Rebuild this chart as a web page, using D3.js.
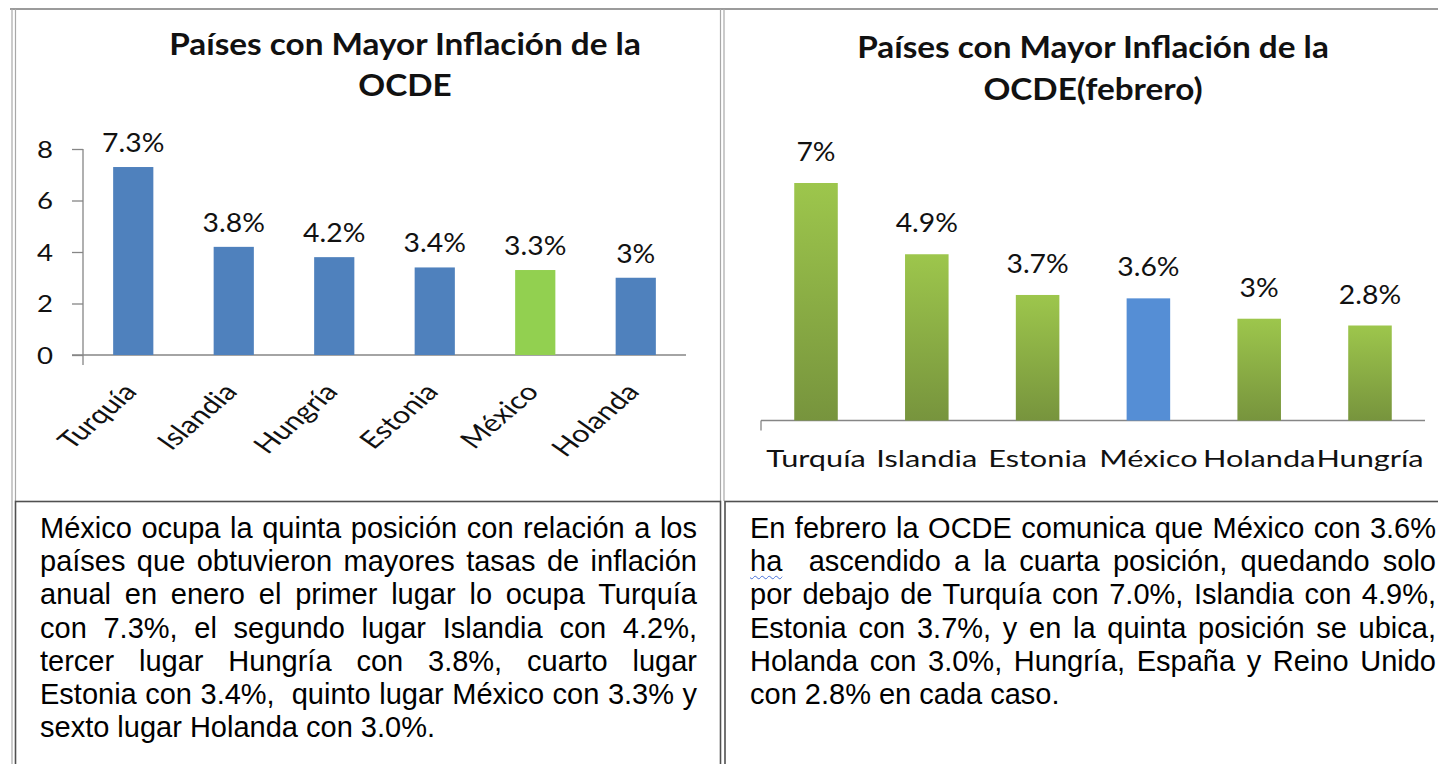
<!DOCTYPE html>
<html>
<head>
<meta charset="utf-8">
<script src="https://cdn.jsdelivr.net/npm/d3@7"></script>
<style>
    body { margin: 0; background: #fff; }
    #wrap { position: relative; width: 1438px; height: 764px; overflow: hidden; }
    #wrap svg { position: absolute; left: 0; top: 0; }
    .para { position: absolute; font-family: "Liberation Sans", Arial, sans-serif; font-size: 29px; line-height: 33.2px; color: #000; }
    .para div { text-align: justify; text-align-last: justify; white-space: pre-wrap; }
    .para div.last { text-align-last: left; }
    .spell { text-decoration: underline wavy #4a72d8; text-decoration-thickness: 1px; text-underline-offset: 4px; }
</style>
</head>
<body>
<div id="wrap"></div>
<script>
// enero
const paisesEnero = ["Turquía", "Islandia", "Hungría", "Estonia", "México", "Holanda"];
const valoresEnero = [7.3, 4.2, 3.8, 3.4, 3.3, 3.0];
const etiquetasEnero = ["7.3%", "3.8%", "4.2%", "3.4%", "3.3%", "3%"];
const ticksEnero = [0, 2, 4, 6, 8];
const tituloEnero = ["Países con Mayor Inflación de la", "OCDE"];

// febrero
const paisesFebrero = ["Turquía", "Islandia", "Estonia", "México", "Holanda", "Hungría"];
const valoresFebrero = [7.0, 4.9, 3.7, 3.6, 3.0, 2.8];
const etiquetasFebrero = ["7%", "4.9%", "3.7%", "3.6%", "3%", "2.8%"];
const tituloFebrero = ["Países con Mayor Inflación de la", "OCDE(febrero)"];

const destacado = "México";

const textoEnero = [
    "México ocupa la quinta posición con relación a los",
    "países que obtuvieron mayores tasas de inflación",
    "anual en enero el primer lugar lo ocupa Turquía",
    "con 7.3%, el segundo lugar Islandia con 4.2%,",
    "tercer lugar Hungría con 3.8%, cuarto lugar",
    "Estonia con 3.4%,  quinto lugar México con 3.3% y",
    "sexto lugar Holanda con 3.0%."
];
const textoFebrero = [
    "En febrero la OCDE comunica que México con 3.6%",
    "ha  ascendido a la cuarta posición, quedando solo",
    "por debajo de Turquía con 7.0%, Islandia con 4.9%,",
    "Estonia con 3.7%, y en la quinta posición se ubica,",
    "Holanda con 3.0%, Hungría, España y Reino Unido",
    "con 2.8% en cada caso."
];

const W = 1438, H = 764;
const axisGray = "#868686";
const font = "Lato, 'Open Sans', sans-serif";

let svg = d3.select("#wrap").append("svg")
    .attr("width", W)
    .attr("height", H)
    .attr("viewBox", [0, 0, W, H].join(" "));

let defs = svg.append("defs");
let grad = defs.append("linearGradient")
    .attr("id", "verde")
    .attr("x1", 0).attr("y1", 0).attr("x2", 0).attr("y2", 1);
grad.append("stop").attr("offset", "0%").attr("stop-color", "#9dc64c");
grad.append("stop").attr("offset", "100%").attr("stop-color", "#77943d");

// the charts in the picture are pasted images stretched sideways, so text gets a scaleX
function label(g, x, y, txt, size, sx, anchor, weight, extra) {
    return g.append("text")
        .attr("transform", `translate(${x},${y}) scale(${sx},1)` + (extra || ""))
        .attr("text-anchor", anchor || "middle")
        .attr("font-family", font)
        .attr("font-size", size)
        .attr("font-weight", weight || 400)
        .attr("fill", "#111")
        .text(txt);
}

// ---- borders
const light = "#a8a8a8";
svg.append("line").attr("x1", 10).attr("y1", 9).attr("x2", W).attr("y2", 9)
    .attr("stroke", "#7a7a7a").attr("stroke-width", 1.5);
[12, 15.5, 720.5, 724].forEach(x => {
    svg.append("line")
        .attr("x1", x).attr("y1", 9)
        .attr("x2", x).attr("y2", x === 12 ? H : 501)
        .attr("stroke", light).attr("stroke-width", 1.2);
});
svg.append("rect").attr("x", 15.5).attr("y", 501.5).attr("width", 705).attr("height", 300)
    .attr("fill", "none").attr("stroke", "#505050").attr("stroke-width", 1.6);
svg.append("rect").attr("x", 725).attr("y", 501.5).attr("width", 760).attr("height", 300)
    .attr("fill", "none").attr("stroke", "#505050").attr("stroke-width", 1.6);

// ---- left chart (enero)
let xL = d3.scaleBand()
    .domain(paisesEnero)
    .range([83, 686])
    .paddingInner(0.6)
    .paddingOuter(0.3);
let yL = d3.scaleLinear()
    .domain([0, 8])
    .range([355, 149]);

tituloEnero.forEach((t, i) => label(svg, 405, 55 + i * 41, t, 30, 1.11, "middle", 700));

let yAxisL = svg.append("g")
    .attr("transform", `translate(${xL.range()[0]},0)`)
    .call(d3.axisLeft(yL).tickValues(ticksEnero).tickSize(11).tickFormat(""));
yAxisL.select(".domain").remove();
yAxisL.selectAll("line").attr("stroke", axisGray).attr("stroke-width", 1.3);
ticksEnero.forEach(t => label(svg, 53, yL(t), t, 24, 1.15, "end").attr("dy", "0.36em"));

svg.append("line")
    .attr("x1", xL.range()[0]).attr("y1", yL(8))
    .attr("x2", xL.range()[0]).attr("y2", yL(0) + 10)
    .attr("stroke", axisGray).attr("stroke-width", 1.3);
svg.append("line")
    .attr("x1", xL.range()[0] - 11).attr("y1", yL(0))
    .attr("x2", xL.range()[1]).attr("y2", yL(0))
    .attr("stroke", axisGray).attr("stroke-width", 1.6);

svg.append("g").selectAll("rect")
    .data(paisesEnero)
    .join("rect")
    .attr("x", d => xL(d))
    .attr("y", (d, i) => yL(valoresEnero[i]))
    .attr("width", xL.bandwidth())
    .attr("height", (d, i) => yL(0) - yL(valoresEnero[i]))
    .attr("fill", d => d === destacado ? "#92d050" : "#4f81bd");

paisesEnero.forEach((d, i) => {
    label(svg, xL(d) + xL.bandwidth() / 2, yL(valoresEnero[i]) - 15, etiquetasEnero[i], 26, 1.09);
    label(svg, xL(d) + xL.bandwidth() / 2 + 5, 393, d, 24, 1.28, "end", 400, " rotate(-48)");
});

// ---- right chart (febrero)
let xR = d3.scaleBand()
    .domain(paisesFebrero)
    .range([761, 1425])
    .paddingInner(0.607)
    .paddingOuter(0.3);
let yR = d3.scaleLinear()
    .domain([0, 7])
    .range([420.5, 183]);

tituloFebrero.forEach((t, i) => label(svg, 1093, 58 + i * 42, t, 30, 1.11, "middle", 700));

svg.append("line")
    .attr("x1", xR.range()[0]).attr("y1", yR(0))
    .attr("x2", xR.range()[1]).attr("y2", yR(0))
    .attr("stroke", axisGray).attr("stroke-width", 1.6);
svg.append("line")
    .attr("x1", xR.range()[0]).attr("y1", yR(0))
    .attr("x2", xR.range()[0]).attr("y2", yR(0) + 10)
    .attr("stroke", axisGray).attr("stroke-width", 1.3);

svg.append("g").selectAll("rect")
    .data(paisesFebrero)
    .join("rect")
    .attr("x", d => xR(d))
    .attr("y", (d, i) => yR(valoresFebrero[i]))
    .attr("width", xR.bandwidth())
    .attr("height", (d, i) => yR(0) - yR(valoresFebrero[i]))
    .attr("fill", d => d === destacado ? "#558ed5" : "url(#verde)");

paisesFebrero.forEach((d, i) => {
    label(svg, xR(d) + xR.bandwidth() / 2, yR(valoresFebrero[i]) - 22, etiquetasFebrero[i], 26, 1.09);
    label(svg, xR(d) + xR.bandwidth() / 2, 467, d, 24, 1.28);
});

// ---- paragraphs
function parrafo(lines, left, width) {
    let box = d3.select("#wrap").append("div")
        .attr("class", "para")
        .style("left", left + "px")
        .style("top", "512px")
        .style("width", width + "px");
    lines.forEach((l, i) => {
        let row = box.append("div").classed("last", i === lines.length - 1);
        if (l.startsWith("ha  ")) {
            row.append("span").attr("class", "spell").text("ha");
            row.append("span").text(l.slice(2));
        } else {
            row.text(l);
        }
    });
}
parrafo(textoEnero, 40, 657);
parrafo(textoFebrero, 750, 686);
</script>
</body>
</html>
